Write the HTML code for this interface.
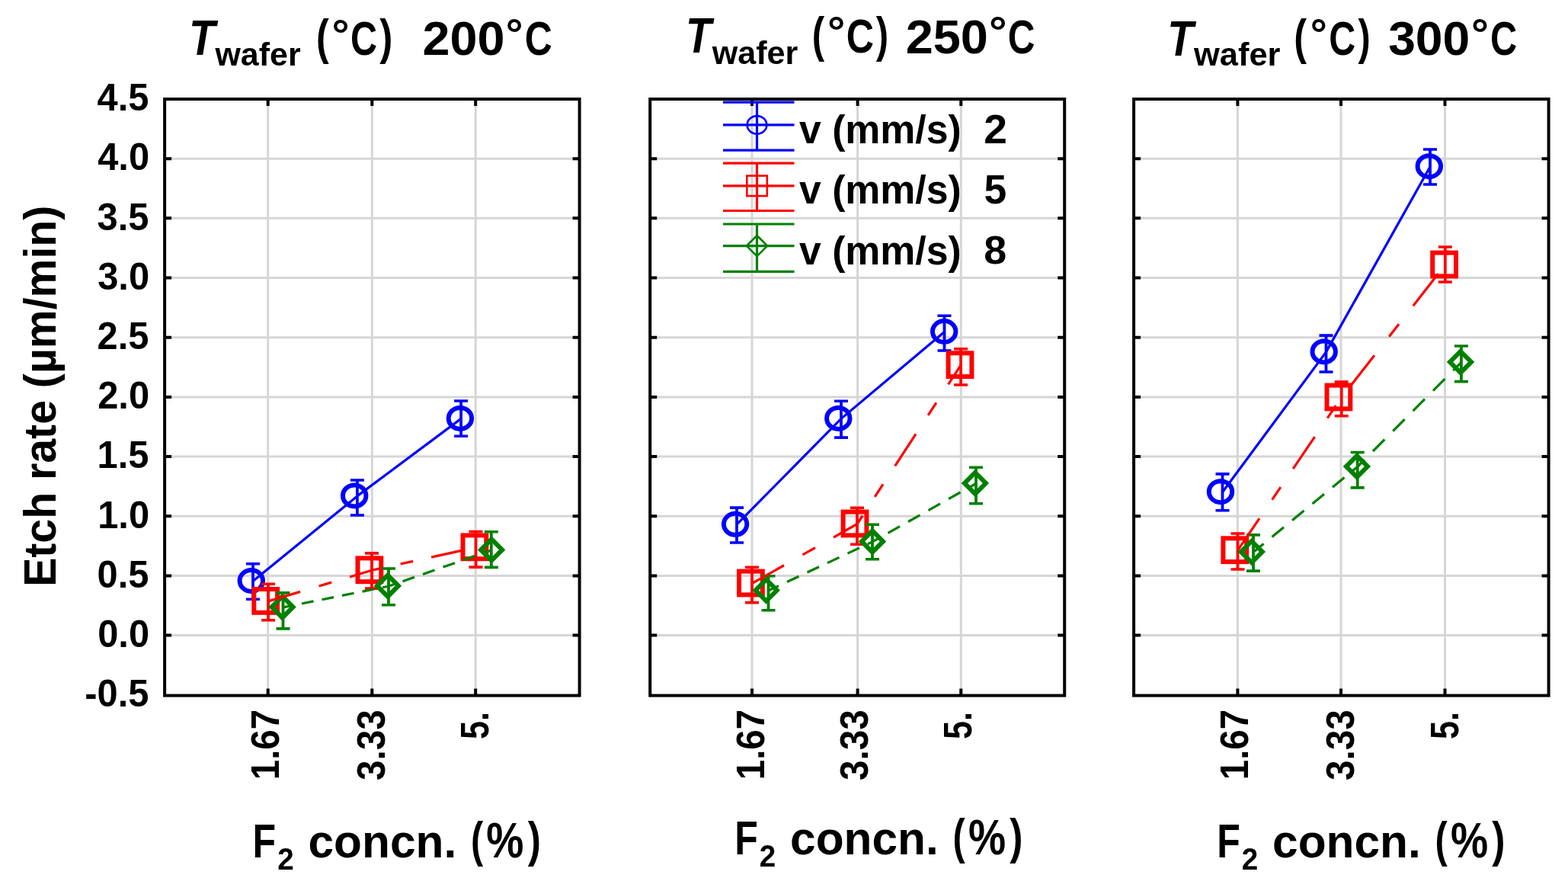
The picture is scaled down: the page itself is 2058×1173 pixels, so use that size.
<!DOCTYPE html>
<html><head><meta charset="utf-8"><title>Etch rate vs F2 concentration</title>
<style>
html,body{margin:0;padding:0;background:#fff;}
svg{display:block;}
text{font-family:'Liberation Sans', sans-serif;}
</style></head>
<body>
<svg width="2058" height="1173" viewBox="0 0 2058 1173">
<rect width="2058" height="1173" fill="#fff"/>
<path d="M216.1 208.18H760.6 M216.1 286.36H760.6 M216.1 364.54H760.6 M216.1 442.72H760.6 M216.1 520.90H760.6 M216.1 599.08H760.6 M216.1 677.26H760.6 M216.1 755.44H760.6 M216.1 833.62H760.6 M351.7 130.0V912.6 M488.3 130.0V912.6 M624.2 130.0V912.6" stroke="#d6d6d6" stroke-width="3" fill="none"/>
<path d="M216.1 208.18h9M760.6 208.18h-9 M216.1 286.36h9M760.6 286.36h-9 M216.1 364.54h9M760.6 364.54h-9 M216.1 442.72h9M760.6 442.72h-9 M216.1 520.90h9M760.6 520.90h-9 M216.1 599.08h9M760.6 599.08h-9 M216.1 677.26h9M760.6 677.26h-9 M216.1 755.44h9M760.6 755.44h-9 M216.1 833.62h9M760.6 833.62h-9 M351.7 130.0v9M351.7 912.6v-9 M488.3 130.0v9M488.3 912.6v-9 M624.2 130.0v9M624.2 912.6v-9" stroke="#000" stroke-width="4" fill="none"/>
<rect x="216.1" y="130.0" width="544.5" height="782.6" stroke="#000" stroke-width="4" fill="none"/>
<path d="M853.2 208.18H1397.2 M853.2 286.36H1397.2 M853.2 364.54H1397.2 M853.2 442.72H1397.2 M853.2 520.90H1397.2 M853.2 599.08H1397.2 M853.2 677.26H1397.2 M853.2 755.44H1397.2 M853.2 833.62H1397.2 M987.0 130.0V912.6 M1125.6 130.0V912.6 M1261.3 130.0V912.6" stroke="#d6d6d6" stroke-width="3" fill="none"/>
<path d="M853.2 208.18h9M1397.2 208.18h-9 M853.2 286.36h9M1397.2 286.36h-9 M853.2 364.54h9M1397.2 364.54h-9 M853.2 442.72h9M1397.2 442.72h-9 M853.2 520.90h9M1397.2 520.90h-9 M853.2 599.08h9M1397.2 599.08h-9 M853.2 677.26h9M1397.2 677.26h-9 M853.2 755.44h9M1397.2 755.44h-9 M853.2 833.62h9M1397.2 833.62h-9 M987.0 130.0v9M987.0 912.6v-9 M1125.6 130.0v9M1125.6 912.6v-9 M1261.3 130.0v9M1261.3 912.6v-9" stroke="#000" stroke-width="4" fill="none"/>
<rect x="853.2" y="130.0" width="544.0" height="782.6" stroke="#000" stroke-width="4" fill="none"/>
<path d="M1488.1 208.18H2032.6 M1488.1 286.36H2032.6 M1488.1 364.54H2032.6 M1488.1 442.72H2032.6 M1488.1 520.90H2032.6 M1488.1 599.08H2032.6 M1488.1 677.26H2032.6 M1488.1 755.44H2032.6 M1488.1 833.62H2032.6 M1624.4 130.0V912.6 M1760.0 130.0V912.6 M1896.5 130.0V912.6" stroke="#d6d6d6" stroke-width="3" fill="none"/>
<path d="M1488.1 208.18h9M2032.6 208.18h-9 M1488.1 286.36h9M2032.6 286.36h-9 M1488.1 364.54h9M2032.6 364.54h-9 M1488.1 442.72h9M2032.6 442.72h-9 M1488.1 520.90h9M2032.6 520.90h-9 M1488.1 599.08h9M2032.6 599.08h-9 M1488.1 677.26h9M2032.6 677.26h-9 M1488.1 755.44h9M2032.6 755.44h-9 M1488.1 833.62h9M2032.6 833.62h-9 M1624.4 130.0v9M1624.4 912.6v-9 M1760.0 130.0v9M1760.0 912.6v-9 M1896.5 130.0v9M1896.5 912.6v-9" stroke="#000" stroke-width="4" fill="none"/>
<rect x="1488.1" y="130.0" width="544.5" height="782.6" stroke="#000" stroke-width="4" fill="none"/>
<ellipse cx="329.8" cy="762.0" rx="15.2" ry="14.0" stroke="#0000ff" stroke-width="6" fill="none"/>
<path d="M332.0 739.8V786.3" stroke="#0000ff" stroke-width="3.8" fill="none"/>
<path d="M323.0 739.8h18M323.0 786.3h18" stroke="#0000ff" stroke-width="3.6" fill="none"/>
<ellipse cx="465.2" cy="650.4" rx="15.2" ry="14.0" stroke="#0000ff" stroke-width="6" fill="none"/>
<path d="M468.9 630.0V676.0" stroke="#0000ff" stroke-width="3.8" fill="none"/>
<path d="M459.9 630.0h18M459.9 676.0h18" stroke="#0000ff" stroke-width="3.6" fill="none"/>
<ellipse cx="603.9" cy="548.9" rx="15.2" ry="14.0" stroke="#0000ff" stroke-width="6" fill="none"/>
<path d="M605.1 526.0V572.3" stroke="#0000ff" stroke-width="3.8" fill="none"/>
<path d="M596.1 526.0h18M596.1 572.3h18" stroke="#0000ff" stroke-width="3.6" fill="none"/>
<rect x="333.3" y="773.0" width="30.8" height="30.8" stroke="#ff0000" stroke-width="6" fill="none"/>
<path d="M352.1 766.2V813.7" stroke="#ff0000" stroke-width="3.8" fill="none"/>
<path d="M343.1 766.2h18M343.1 813.7h18" stroke="#ff0000" stroke-width="3.6" fill="none"/>
<rect x="469.5" y="732.4" width="30.8" height="30.8" stroke="#ff0000" stroke-width="6" fill="none"/>
<path d="M488.0 725.9V772.1" stroke="#ff0000" stroke-width="3.8" fill="none"/>
<path d="M479.0 725.9h18M479.0 772.1h18" stroke="#ff0000" stroke-width="3.6" fill="none"/>
<rect x="607.5" y="702.4" width="30.8" height="30.8" stroke="#ff0000" stroke-width="6" fill="none"/>
<path d="M624.5 697.5V744.1" stroke="#ff0000" stroke-width="3.8" fill="none"/>
<path d="M615.5 697.5h18M615.5 744.1h18" stroke="#ff0000" stroke-width="3.6" fill="none"/>
<path d="M370.6 782.4L384.6 796.4L370.6 810.4L356.6 796.4Z" stroke="#008000" stroke-width="6" fill="none" stroke-linejoin="miter"/>
<path d="M371.5 777.9V824.9" stroke="#008000" stroke-width="3.8" fill="none"/>
<path d="M362.5 777.9h18M362.5 824.9h18" stroke="#008000" stroke-width="3.6" fill="none"/>
<path d="M508.9 754.7L522.9 768.7L508.9 782.7L494.9 768.7Z" stroke="#008000" stroke-width="6" fill="none" stroke-linejoin="miter"/>
<path d="M510.0 746.0V793.8" stroke="#008000" stroke-width="3.8" fill="none"/>
<path d="M501.0 746.0h18M501.0 793.8h18" stroke="#008000" stroke-width="3.6" fill="none"/>
<path d="M645.1 707.4L659.1 721.4L645.1 735.4L631.1 721.4Z" stroke="#008000" stroke-width="6" fill="none" stroke-linejoin="miter"/>
<path d="M644.8 697.8V744.4" stroke="#008000" stroke-width="3.8" fill="none"/>
<path d="M635.8 697.8h18M635.8 744.4h18" stroke="#008000" stroke-width="3.6" fill="none"/>
<path d="M332.0 762.5L468.9 650.9L605.1 549.4" stroke="#0000ff" stroke-width="3.2" fill="none" stroke-linejoin="round"/>
<path d="M352.10 788.90L488.00 748.30" stroke="#ff0000" stroke-width="3.2" fill="none" stroke-dasharray="43.83 25.57 17.22 25.05" stroke-dashoffset="0.00"/>
<path d="M488.00 748.30L624.50 718.30" stroke="#ff0000" stroke-width="3.2" fill="none" stroke-dasharray="43.00 25.08 16.89 24.57" stroke-dashoffset="29.59"/>
<path d="M371.50 796.90L510.00 769.20" stroke="#008000" stroke-width="3.2" fill="none" stroke-dasharray="15.81 11.22" stroke-dashoffset="2.04"/>
<path d="M510.00 769.20L644.80 721.90" stroke="#008000" stroke-width="3.2" fill="none" stroke-dasharray="16.43 11.66" stroke-dashoffset="8.48"/>
<ellipse cx="965.1" cy="687.8" rx="15.2" ry="14.0" stroke="#0000ff" stroke-width="6" fill="none"/>
<path d="M967.0 666.1V712.0" stroke="#0000ff" stroke-width="3.8" fill="none"/>
<path d="M958.0 666.1h18M958.0 712.0h18" stroke="#0000ff" stroke-width="3.6" fill="none"/>
<ellipse cx="1100.3" cy="548.9" rx="15.2" ry="14.0" stroke="#0000ff" stroke-width="6" fill="none"/>
<path d="M1104.0 526.2V574.1" stroke="#0000ff" stroke-width="3.8" fill="none"/>
<path d="M1095.0 526.2h18M1095.0 574.1h18" stroke="#0000ff" stroke-width="3.6" fill="none"/>
<ellipse cx="1239.2" cy="435.0" rx="15.2" ry="14.0" stroke="#0000ff" stroke-width="6" fill="none"/>
<path d="M1239.5 414.2V460.0" stroke="#0000ff" stroke-width="3.8" fill="none"/>
<path d="M1230.5 414.2h18M1230.5 460.0h18" stroke="#0000ff" stroke-width="3.6" fill="none"/>
<rect x="970.0" y="749.6" width="30.8" height="30.8" stroke="#ff0000" stroke-width="6" fill="none"/>
<path d="M987.0 744.3V790.6" stroke="#ff0000" stroke-width="3.8" fill="none"/>
<path d="M978.0 744.3h18M978.0 790.6h18" stroke="#ff0000" stroke-width="3.6" fill="none"/>
<rect x="1106.6" y="671.6" width="30.8" height="30.8" stroke="#ff0000" stroke-width="6" fill="none"/>
<path d="M1125.0 666.2V714.2" stroke="#ff0000" stroke-width="3.8" fill="none"/>
<path d="M1116.0 666.2h18M1116.0 714.2h18" stroke="#ff0000" stroke-width="3.6" fill="none"/>
<rect x="1244.6" y="463.3" width="30.8" height="30.8" stroke="#ff0000" stroke-width="6" fill="none"/>
<path d="M1261.1 457.8V505.0" stroke="#ff0000" stroke-width="3.8" fill="none"/>
<path d="M1252.1 457.8h18M1252.1 505.0h18" stroke="#ff0000" stroke-width="3.6" fill="none"/>
<path d="M1005.7 760.5L1019.7 774.5L1005.7 788.5L991.7 774.5Z" stroke="#008000" stroke-width="6" fill="none" stroke-linejoin="miter"/>
<path d="M1008.5 755.8V800.7" stroke="#008000" stroke-width="3.8" fill="none"/>
<path d="M999.5 755.8h18M999.5 800.7h18" stroke="#008000" stroke-width="3.6" fill="none"/>
<path d="M1145.0 696.4L1159.0 710.4L1145.0 724.4L1131.0 710.4Z" stroke="#008000" stroke-width="6" fill="none" stroke-linejoin="miter"/>
<path d="M1145.0 688.3V733.8" stroke="#008000" stroke-width="3.8" fill="none"/>
<path d="M1136.0 688.3h18M1136.0 733.8h18" stroke="#008000" stroke-width="3.6" fill="none"/>
<path d="M1279.9 620.0L1293.9 634.0L1279.9 648.0L1265.9 634.0Z" stroke="#008000" stroke-width="6" fill="none" stroke-linejoin="miter"/>
<path d="M1281.0 613.3V660.7" stroke="#008000" stroke-width="3.8" fill="none"/>
<path d="M1272.0 613.3h18M1272.0 660.7h18" stroke="#008000" stroke-width="3.6" fill="none"/>
<path d="M967.0 688.2L1104.0 549.4L1239.5 435.5" stroke="#0000ff" stroke-width="3.2" fill="none" stroke-linejoin="round"/>
<path d="M987.00 765.50L1125.00 687.50" stroke="#ff0000" stroke-width="3.2" fill="none" stroke-dasharray="48.24 28.14 18.95 27.57" stroke-dashoffset="0.00"/>
<path d="M1125.00 687.50L1261.10 479.20" stroke="#ff0000" stroke-width="3.2" fill="none" stroke-dasharray="50.17 29.27 19.71 28.67" stroke-dashoffset="37.03"/>
<path d="M1008.50 775.00L1145.00 710.90" stroke="#008000" stroke-width="3.2" fill="none" stroke-dasharray="17.12 12.15" stroke-dashoffset="2.21"/>
<path d="M1145.00 710.90L1281.00 634.50" stroke="#008000" stroke-width="3.2" fill="none" stroke-dasharray="17.78 12.62" stroke-dashoffset="6.88"/>
<ellipse cx="1602.0" cy="645.2" rx="15.2" ry="14.0" stroke="#0000ff" stroke-width="6" fill="none"/>
<path d="M1604.5 621.9V669.7" stroke="#0000ff" stroke-width="3.8" fill="none"/>
<path d="M1595.5 621.9h18M1595.5 669.7h18" stroke="#0000ff" stroke-width="3.6" fill="none"/>
<ellipse cx="1737.7" cy="461.4" rx="15.2" ry="14.0" stroke="#0000ff" stroke-width="6" fill="none"/>
<path d="M1740.5 440.1V488.0" stroke="#0000ff" stroke-width="3.8" fill="none"/>
<path d="M1731.5 440.1h18M1731.5 488.0h18" stroke="#0000ff" stroke-width="3.6" fill="none"/>
<ellipse cx="1875.8" cy="218.2" rx="15.2" ry="14.0" stroke="#0000ff" stroke-width="6" fill="none"/>
<path d="M1877.0 196.0V242.0" stroke="#0000ff" stroke-width="3.8" fill="none"/>
<path d="M1868.0 196.0h18M1868.0 242.0h18" stroke="#0000ff" stroke-width="3.6" fill="none"/>
<rect x="1605.4" y="706.3" width="30.8" height="30.8" stroke="#ff0000" stroke-width="6" fill="none"/>
<path d="M1624.5 700.0V747.0" stroke="#ff0000" stroke-width="3.8" fill="none"/>
<path d="M1615.5 700.0h18M1615.5 747.0h18" stroke="#ff0000" stroke-width="3.6" fill="none"/>
<rect x="1741.5" y="505.6" width="30.8" height="30.8" stroke="#ff0000" stroke-width="6" fill="none"/>
<path d="M1760.7 501.1V545.8" stroke="#ff0000" stroke-width="3.8" fill="none"/>
<path d="M1751.7 501.1h18M1751.7 545.8h18" stroke="#ff0000" stroke-width="3.6" fill="none"/>
<rect x="1880.2" y="331.6" width="30.8" height="30.8" stroke="#ff0000" stroke-width="6" fill="none"/>
<path d="M1896.8 324.0V370.0" stroke="#ff0000" stroke-width="3.8" fill="none"/>
<path d="M1887.8 324.0h18M1887.8 370.0h18" stroke="#ff0000" stroke-width="3.6" fill="none"/>
<path d="M1642.8 710.0L1656.8 724.0L1642.8 738.0L1628.8 724.0Z" stroke="#008000" stroke-width="6" fill="none" stroke-linejoin="miter"/>
<path d="M1645.0 701.9V749.1" stroke="#008000" stroke-width="3.8" fill="none"/>
<path d="M1636.0 701.9h18M1636.0 749.1h18" stroke="#008000" stroke-width="3.6" fill="none"/>
<path d="M1780.9 598.0L1794.9 612.0L1780.9 626.0L1766.9 612.0Z" stroke="#008000" stroke-width="6" fill="none" stroke-linejoin="miter"/>
<path d="M1781.7 593.5V639.9" stroke="#008000" stroke-width="3.8" fill="none"/>
<path d="M1772.7 593.5h18M1772.7 639.9h18" stroke="#008000" stroke-width="3.6" fill="none"/>
<path d="M1917.0 461.0L1931.0 475.0L1917.0 489.0L1903.0 475.0Z" stroke="#008000" stroke-width="6" fill="none" stroke-linejoin="miter"/>
<path d="M1917.9 454.0V500.6" stroke="#008000" stroke-width="3.8" fill="none"/>
<path d="M1908.9 454.0h18M1908.9 500.6h18" stroke="#008000" stroke-width="3.6" fill="none"/>
<path d="M1604.5 645.7L1740.5 461.9L1877.0 218.8" stroke="#0000ff" stroke-width="3.2" fill="none" stroke-linejoin="round"/>
<path d="M1624.50 722.20L1760.70 521.50" stroke="#ff0000" stroke-width="3.2" fill="none" stroke-dasharray="50.76 29.61 19.94 29.00" stroke-dashoffset="0.00"/>
<path d="M1760.70 521.50L1896.80 347.50" stroke="#ff0000" stroke-width="3.2" fill="none" stroke-dasharray="53.32 31.10 20.95 30.47" stroke-dashoffset="118.96"/>
<path d="M1645.00 724.50L1781.70 612.50" stroke="#008000" stroke-width="3.2" fill="none" stroke-dasharray="20.04 14.22" stroke-dashoffset="2.59"/>
<path d="M1781.70 612.50L1917.90 475.50" stroke="#008000" stroke-width="3.2" fill="none" stroke-dasharray="21.86 15.51" stroke-dashoffset="8.74"/>
<path d="M949.0 134.2H1042.5M949.0 163.9H1042.5M949.0 197.1H1042.5M993.5 134.2V197.1" stroke="#0000ff" stroke-width="3.2" fill="none"/>
<ellipse cx="993.5" cy="163.9" rx="12.8" ry="11.8" stroke="#0000ff" stroke-width="2.6" fill="none"/>
<text x="1049.00" y="187.84" font-size="51.39" textLength="212.68" lengthAdjust="spacingAndGlyphs" style="font-weight:bold;" fill="#000" >v (mm/s)</text>
<text x="1291.18" y="187.90" font-size="53.42" textLength="30.73" lengthAdjust="spacingAndGlyphs" style="font-weight:bold;" fill="#000" >2</text>
<path d="M949.0 214.1H1042.5M949.0 243.8H1042.5M949.0 276.5H1042.5M993.5 214.1V276.5" stroke="#ff0000" stroke-width="3.2" fill="none"/>
<rect x="980.3" y="230.6" width="26.5" height="26.5" stroke="#ff0000" stroke-width="2.6" fill="none"/>
<text x="1049.00" y="267.04" font-size="51.39" textLength="212.68" lengthAdjust="spacingAndGlyphs" style="font-weight:bold;" fill="#000" >v (mm/s)</text>
<text x="1291.46" y="266.58" font-size="53.46" textLength="29.73" lengthAdjust="spacingAndGlyphs" style="font-weight:bold;" fill="#000" >5</text>
<path d="M949.0 294.0H1042.5M949.0 322.6H1042.5M949.0 356.4H1042.5M993.5 294.0V356.4" stroke="#008000" stroke-width="3.2" fill="none"/>
<path d="M993.5 309.0L1007.1 322.6L993.5 336.2L979.9 322.6Z" stroke="#008000" stroke-width="2.6" fill="none" stroke-linejoin="miter"/>
<text x="1049.00" y="346.64" font-size="51.39" textLength="212.68" lengthAdjust="spacingAndGlyphs" style="font-weight:bold;" fill="#000" >v (mm/s)</text>
<text x="1291.39" y="346.19" font-size="52.68" textLength="29.97" lengthAdjust="spacingAndGlyphs" style="font-weight:bold;" fill="#000" >8</text>
<text x="127.58" y="145.28" font-size="49.5" textLength="67.78" lengthAdjust="spacingAndGlyphs" style="font-weight:bold;" fill="#000" >4.5</text>
<text x="128.22" y="223.46" font-size="49.5" textLength="67.78" lengthAdjust="spacingAndGlyphs" style="font-weight:bold;" fill="#000" >4.0</text>
<text x="127.58" y="301.64" font-size="49.5" textLength="67.78" lengthAdjust="spacingAndGlyphs" style="font-weight:bold;" fill="#000" >3.5</text>
<text x="128.22" y="379.82" font-size="49.5" textLength="67.78" lengthAdjust="spacingAndGlyphs" style="font-weight:bold;" fill="#000" >3.0</text>
<text x="127.58" y="458.00" font-size="49.5" textLength="67.78" lengthAdjust="spacingAndGlyphs" style="font-weight:bold;" fill="#000" >2.5</text>
<text x="128.22" y="536.18" font-size="49.5" textLength="67.78" lengthAdjust="spacingAndGlyphs" style="font-weight:bold;" fill="#000" >2.0</text>
<text x="127.58" y="614.36" font-size="49.5" textLength="67.78" lengthAdjust="spacingAndGlyphs" style="font-weight:bold;" fill="#000" >1.5</text>
<text x="128.22" y="692.54" font-size="49.5" textLength="67.78" lengthAdjust="spacingAndGlyphs" style="font-weight:bold;" fill="#000" >1.0</text>
<text x="127.58" y="770.72" font-size="49.5" textLength="67.78" lengthAdjust="spacingAndGlyphs" style="font-weight:bold;" fill="#000" >0.5</text>
<text x="128.22" y="848.90" font-size="49.5" textLength="67.78" lengthAdjust="spacingAndGlyphs" style="font-weight:bold;" fill="#000" >0.0</text>
<text x="111.34" y="927.08" font-size="49.5" textLength="84.02" lengthAdjust="spacingAndGlyphs" style="font-weight:bold;" fill="#000" >-0.5</text>
<g transform="rotate(-90)"><text x="-1023.24" y="366.05" font-size="51.5" textLength="92.38" lengthAdjust="spacingAndGlyphs" style="font-weight:bold;" fill="#000" >1.67</text></g>
<g transform="rotate(-90)"><text x="-1024.04" y="504.67" font-size="51.5" textLength="92.82" lengthAdjust="spacingAndGlyphs" style="font-weight:bold;" fill="#000" >3.33</text></g>
<g transform="rotate(-90)"><text x="-970.08" y="640.75" font-size="51.5" textLength="36.11" lengthAdjust="spacingAndGlyphs" style="font-weight:bold;" fill="#000" >5.</text></g>
<g transform="rotate(-90)"><text x="-1023.24" y="1003.45" font-size="51.5" textLength="92.38" lengthAdjust="spacingAndGlyphs" style="font-weight:bold;" fill="#000" >1.67</text></g>
<g transform="rotate(-90)"><text x="-1024.04" y="1138.97" font-size="51.5" textLength="92.82" lengthAdjust="spacingAndGlyphs" style="font-weight:bold;" fill="#000" >3.33</text></g>
<g transform="rotate(-90)"><text x="-970.08" y="1275.45" font-size="51.5" textLength="36.11" lengthAdjust="spacingAndGlyphs" style="font-weight:bold;" fill="#000" >5.</text></g>
<g transform="rotate(-90)"><text x="-1023.24" y="1638.25" font-size="51.5" textLength="92.38" lengthAdjust="spacingAndGlyphs" style="font-weight:bold;" fill="#000" >1.67</text></g>
<g transform="rotate(-90)"><text x="-1024.04" y="1777.17" font-size="51.5" textLength="92.82" lengthAdjust="spacingAndGlyphs" style="font-weight:bold;" fill="#000" >3.33</text></g>
<g transform="rotate(-90)"><text x="-970.08" y="1913.75" font-size="51.5" textLength="36.11" lengthAdjust="spacingAndGlyphs" style="font-weight:bold;" fill="#000" >5.</text></g>
<g transform="rotate(-90)"><text x="-769.83" y="72.50" font-size="58.5" textLength="500.18" lengthAdjust="spacingAndGlyphs" style="font-weight:bold;" fill="#000" >Etch rate (µm/min)</text></g>
<text x="331.55" y="1125.00" font-size="63.66" textLength="30.58" lengthAdjust="spacingAndGlyphs" style="font-weight:bold;" fill="#000" >F</text>
<text x="364.16" y="1141.10" font-size="41.25" textLength="21.49" lengthAdjust="spacingAndGlyphs" style="font-weight:bold;" fill="#000" >2</text>
<text x="404.44" y="1125.30" font-size="61.09" textLength="194.82" lengthAdjust="spacingAndGlyphs" style="font-weight:bold;" fill="#000" >concn.</text>
<text x="617.88" y="1123.78" font-size="64.69" textLength="16.17" lengthAdjust="spacingAndGlyphs" style="font-weight:bold;" fill="#000" >(</text>
<text x="638.32" y="1125.00" font-size="64.24" textLength="49.13" lengthAdjust="spacingAndGlyphs" style="font-weight:bold;" fill="#000" >%</text>
<text x="692.65" y="1123.78" font-size="64.69" textLength="17.23" lengthAdjust="spacingAndGlyphs" style="font-weight:bold;" fill="#000" >)</text>
<text x="964.15" y="1120.90" font-size="63.66" textLength="30.58" lengthAdjust="spacingAndGlyphs" style="font-weight:bold;" fill="#000" >F</text>
<text x="996.76" y="1137.00" font-size="41.25" textLength="21.49" lengthAdjust="spacingAndGlyphs" style="font-weight:bold;" fill="#000" >2</text>
<text x="1037.04" y="1121.20" font-size="61.09" textLength="194.82" lengthAdjust="spacingAndGlyphs" style="font-weight:bold;" fill="#000" >concn.</text>
<text x="1250.48" y="1119.68" font-size="64.69" textLength="16.17" lengthAdjust="spacingAndGlyphs" style="font-weight:bold;" fill="#000" >(</text>
<text x="1270.92" y="1120.90" font-size="64.24" textLength="49.13" lengthAdjust="spacingAndGlyphs" style="font-weight:bold;" fill="#000" >%</text>
<text x="1325.25" y="1119.68" font-size="64.69" textLength="17.23" lengthAdjust="spacingAndGlyphs" style="font-weight:bold;" fill="#000" >)</text>
<text x="1597.15" y="1125.00" font-size="63.66" textLength="30.58" lengthAdjust="spacingAndGlyphs" style="font-weight:bold;" fill="#000" >F</text>
<text x="1629.76" y="1141.10" font-size="41.25" textLength="21.49" lengthAdjust="spacingAndGlyphs" style="font-weight:bold;" fill="#000" >2</text>
<text x="1670.04" y="1125.30" font-size="61.09" textLength="194.82" lengthAdjust="spacingAndGlyphs" style="font-weight:bold;" fill="#000" >concn.</text>
<text x="1883.48" y="1123.78" font-size="64.69" textLength="16.17" lengthAdjust="spacingAndGlyphs" style="font-weight:bold;" fill="#000" >(</text>
<text x="1903.92" y="1125.00" font-size="64.24" textLength="49.13" lengthAdjust="spacingAndGlyphs" style="font-weight:bold;" fill="#000" >%</text>
<text x="1958.25" y="1123.78" font-size="64.69" textLength="17.23" lengthAdjust="spacingAndGlyphs" style="font-weight:bold;" fill="#000" >)</text>
<text x="248.02" y="72.20" font-size="64.1" textLength="34.33" lengthAdjust="spacingAndGlyphs" style="font-weight:bold;font-style:italic;" fill="#000" >T</text>
<text x="282.43" y="85.79" font-size="42.49" textLength="112.22" lengthAdjust="spacingAndGlyphs" style="font-weight:bold;" fill="#000" >wafer</text>
<text x="414.89" y="71.08" font-size="65.66" textLength="16.76" lengthAdjust="spacingAndGlyphs" style="font-weight:bold;" fill="#000" >(</text>
<text x="435.46" y="64.53" font-size="56.24" textLength="23.13" lengthAdjust="spacingAndGlyphs" style="font-weight:bold;" fill="#000" >°</text>
<text x="460.11" y="71.98" font-size="63.28" textLength="35.01" lengthAdjust="spacingAndGlyphs" style="font-weight:bold;" fill="#000" >C</text>
<text x="498.25" y="71.08" font-size="65.66" textLength="17.11" lengthAdjust="spacingAndGlyphs" style="font-weight:bold;" fill="#000" >)</text>
<text x="554.56" y="71.88" font-size="62.99" textLength="108.00" lengthAdjust="spacingAndGlyphs" style="font-weight:bold;" fill="#000" >200</text>
<text x="663.70" y="63.75" font-size="55.26" textLength="22.74" lengthAdjust="spacingAndGlyphs" style="font-weight:bold;" fill="#000" >°</text>
<text x="688.65" y="72.28" font-size="63.56" textLength="36.01" lengthAdjust="spacingAndGlyphs" style="font-weight:bold;" fill="#000" >C</text>
<text x="900.00" y="69.20" font-size="64.1" textLength="33.63" lengthAdjust="spacingAndGlyphs" style="font-weight:bold;font-style:italic;" fill="#000" >T</text>
<text x="934.73" y="83.59" font-size="42.08" textLength="112.63" lengthAdjust="spacingAndGlyphs" style="font-weight:bold;" fill="#000" >wafer</text>
<text x="1065.65" y="67.88" font-size="64.69" textLength="16.40" lengthAdjust="spacingAndGlyphs" style="font-weight:bold;" fill="#000" >(</text>
<text x="1086.13" y="60.12" font-size="53.64" textLength="23.38" lengthAdjust="spacingAndGlyphs" style="font-weight:bold;" fill="#000" >°</text>
<text x="1110.64" y="68.88" font-size="62.99" textLength="36.23" lengthAdjust="spacingAndGlyphs" style="font-weight:bold;" fill="#000" >C</text>
<text x="1149.85" y="67.88" font-size="64.69" textLength="16.40" lengthAdjust="spacingAndGlyphs" style="font-weight:bold;" fill="#000" >)</text>
<text x="1188.65" y="69.78" font-size="63.84" textLength="108.31" lengthAdjust="spacingAndGlyphs" style="font-weight:bold;" fill="#000" >250</text>
<text x="1298.10" y="61.35" font-size="55.26" textLength="23.64" lengthAdjust="spacingAndGlyphs" style="font-weight:bold;" fill="#000" >°</text>
<text x="1322.67" y="69.78" font-size="63.84" textLength="35.68" lengthAdjust="spacingAndGlyphs" style="font-weight:bold;" fill="#000" >C</text>
<text x="1532.26" y="72.60" font-size="65.7" textLength="34.03" lengthAdjust="spacingAndGlyphs" style="font-weight:bold;font-style:italic;" fill="#000" >T</text>
<text x="1567.03" y="86.18" font-size="43.03" textLength="113.43" lengthAdjust="spacingAndGlyphs" style="font-weight:bold;" fill="#000" >wafer</text>
<text x="1698.29" y="71.08" font-size="65.66" textLength="16.76" lengthAdjust="spacingAndGlyphs" style="font-weight:bold;" fill="#000" >(</text>
<text x="1719.77" y="63.63" font-size="54.94" textLength="22.10" lengthAdjust="spacingAndGlyphs" style="font-weight:bold;" fill="#000" >°</text>
<text x="1744.32" y="71.98" font-size="63.84" textLength="34.90" lengthAdjust="spacingAndGlyphs" style="font-weight:bold;" fill="#000" >C</text>
<text x="1782.45" y="71.08" font-size="65.66" textLength="16.17" lengthAdjust="spacingAndGlyphs" style="font-weight:bold;" fill="#000" >)</text>
<text x="1822.13" y="72.18" font-size="63.71" textLength="107.11" lengthAdjust="spacingAndGlyphs" style="font-weight:bold;" fill="#000" >300</text>
<text x="1930.97" y="64.08" font-size="55.59" textLength="23.00" lengthAdjust="spacingAndGlyphs" style="font-weight:bold;" fill="#000" >°</text>
<text x="1956.01" y="72.28" font-size="63.84" textLength="35.12" lengthAdjust="spacingAndGlyphs" style="font-weight:bold;" fill="#000" >C</text>
</svg>
</body></html>
